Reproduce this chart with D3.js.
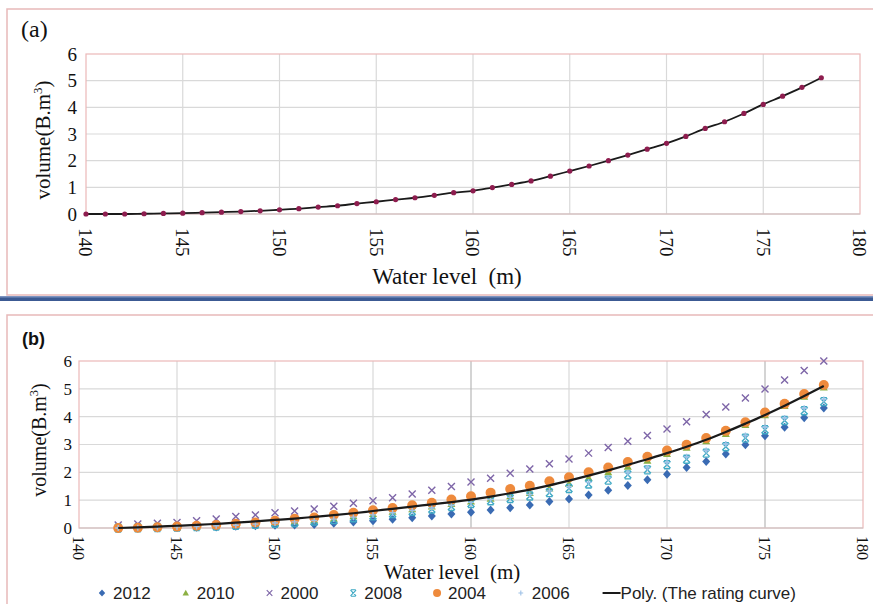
<!DOCTYPE html>
<html>
<head>
<meta charset="utf-8">
<script src="https://cdn.jsdelivr.net/npm/d3@7"></script>
<style>
  body { margin: 0; background: #fff; }
  svg { display: block; }
</style>
</head>
<body>
<div id="chart-area"></div>
<script>
// ---- data ----
var xTicks = [140, 145, 150, 155, 160, 165, 170, 175, 180];
var yTicks = [0, 1, 2, 3, 4, 5, 6];

// panel (a): volume vs water level
var levelsA = [140,141,142,143,144,145,146,147,148,149,150,151,152,153,154,155,156,157,158,159,
               160,161,162,163,164,165,166,167,168,169,170,171,172,173,174,175,176,177,178];
var volumeA = [0.00,0.00,0.00,0.01,0.02,0.03,0.05,0.07,0.09,0.12,0.16,0.20,0.26,0.31,0.39,0.46,0.54,0.61,0.70,0.80,
               0.87,0.99,1.11,1.24,1.42,1.61,1.80,2.00,2.21,2.43,2.65,2.91,3.21,3.46,3.77,4.11,4.42,4.75,5.11];

// panel (b): survey years
var levelsB = [142,143,144,145,146,147,148,149,150,151,152,153,154,155,156,157,158,159,160,
               161,162,163,164,165,166,167,168,169,170,171,172,173,174,175,176,177,178];
var vol2012 = [0.00,0.00,0.01,0.02,0.03,0.04,0.06,0.08,0.10,0.11,0.13,0.17,0.22,0.26,0.31,0.37,0.43,0.50,0.57,
               0.65,0.73,0.83,0.95,1.04,1.19,1.36,1.53,1.73,1.93,2.17,2.39,2.66,2.99,3.31,3.62,3.96,4.31];
var vol2010 = [0.00,0.01,0.02,0.04,0.06,0.08,0.11,0.15,0.19,0.23,0.28,0.33,0.42,0.50,0.58,0.67,0.77,0.86,0.95,
               1.05,1.14,1.26,1.42,1.58,1.80,2.00,2.20,2.42,2.66,2.88,3.12,3.38,3.70,4.05,4.38,4.72,5.05];
var vol2000 = [0.11,0.14,0.17,0.20,0.26,0.32,0.41,0.47,0.55,0.61,0.68,0.78,0.89,0.98,1.09,1.22,1.36,1.49,1.65,
               1.79,1.97,2.12,2.31,2.48,2.69,2.89,3.12,3.32,3.56,3.82,4.08,4.35,4.67,4.99,5.32,5.66,6.00];
var vol2008 = [0.00,0.01,0.02,0.03,0.05,0.07,0.10,0.13,0.17,0.20,0.25,0.30,0.37,0.44,0.52,0.60,0.68,0.77,0.88,
               0.98,1.06,1.15,1.27,1.42,1.58,1.72,1.91,2.09,2.27,2.47,2.69,2.92,3.23,3.53,3.86,4.21,4.54];
var vol2004 = [0.00,0.01,0.03,0.05,0.08,0.11,0.15,0.20,0.26,0.33,0.38,0.47,0.55,0.64,0.72,0.82,0.91,1.02,1.14,
               1.27,1.40,1.52,1.68,1.82,2.00,2.17,2.37,2.56,2.78,2.99,3.23,3.49,3.80,4.15,4.46,4.81,5.14];
var vol2006 = [0.00,0.01,0.02,0.04,0.05,0.08,0.10,0.14,0.18,0.22,0.27,0.32,0.39,0.47,0.55,0.63,0.72,0.81,0.92,
               1.02,1.10,1.20,1.33,1.48,1.64,1.80,1.98,2.16,2.35,2.56,2.78,3.02,3.32,3.62,3.95,4.30,4.62];
var volPoly = [0.00,0.02,0.05,0.08,0.11,0.15,0.19,0.24,0.29,0.34,0.40,0.46,0.53,0.61,0.69,0.77,0.85,0.93,1.02,
               1.13,1.25,1.38,1.53,1.70,1.88,2.07,2.27,2.47,2.69,2.92,3.17,3.45,3.75,4.06,4.39,4.74,5.10];

var seriesNames = ["2012", "2010", "2000", "2008", "2004", "2006"];
var polyLabel = "Poly. (The rating curve)";

// ---- svg ----
var svg = d3.select("#chart-area")
    .append("svg")
        .attr("width", 873)
        .attr("height", 604);

svg.append("rect").attr("width", 873).attr("height", 604).attr("fill", "#fff");

// panel frames
svg.append("rect")
    .attr("x", 7).attr("y", 9).attr("width", 880).attr("height", 286)
    .attr("fill", "none").attr("stroke", "#e8b9b9").attr("stroke-width", 1.5);
svg.append("rect")
    .attr("x", 0).attr("y", 296).attr("width", 873).attr("height", 5)
    .attr("fill", "#3c5a93");
svg.append("rect")
    .attr("x", 0).attr("y", 296).attr("width", 873).attr("height", 1.5)
    .attr("fill", "#7d93c0");
svg.append("rect")
    .attr("x", 7).attr("y", 315).attr("width", 880).attr("height", 300)
    .attr("fill", "none").attr("stroke", "#e8b9b9").attr("stroke-width", 1.5);

// draws grid, frame and axes for one panel, returns scales
function panel(box, opt) {
    var g = svg.append("g");
    var x = d3.scaleLinear().domain([140, 180]).range([box.left, box.right]);
    var y = d3.scaleLinear().domain([0, 6]).range([box.bottom, box.top]);

    // horizontal grid
    g.selectAll(".hg").data(yTicks.slice(1, -1)).enter().append("line")
        .attr("x1", box.left).attr("x2", box.right)
        .attr("y1", function(d){ return y(d); }).attr("y2", function(d){ return y(d); })
        .attr("stroke", "#d9d9d9").attr("stroke-width", 1.2);
    // vertical grid
    g.selectAll(".vg").data(xTicks.slice(1, -1)).enter().append("line")
        .attr("y1", box.top).attr("y2", box.bottom)
        .attr("x1", function(d){ return x(d); }).attr("x2", function(d){ return x(d); })
        .attr("stroke", function(d){ return opt.darkX.indexOf(d) >= 0 ? "#b8b8b8" : "#d9d9d9"; })
        .attr("stroke-width", 1.2);
    // plot frame
    g.append("rect")
        .attr("x", box.left).attr("y", box.top)
        .attr("width", box.right - box.left).attr("height", box.bottom - box.top)
        .attr("fill", "none").attr("stroke", "#ebb8b8").attr("stroke-width", 1.2);
    g.append("line")
        .attr("x1", box.left).attr("x2", box.right)
        .attr("y1", box.bottom).attr("y2", box.bottom)
        .attr("stroke", "#c8c8c8").attr("stroke-width", 1.2);

    // y tick labels
    g.selectAll(".yl").data(yTicks).enter().append("text")
        .attr("x", box.left - opt.yGap)
        .attr("y", function(d){ return y(d); })
        .attr("dy", "0.35em")
        .attr("text-anchor", "end")
        .attr("font-family", "Liberation Serif, Times New Roman, serif")
        .attr("font-size", opt.tickSize)
        .attr("fill", "#111")
        .text(function(d){ return d; });

    // x tick labels, rotated
    g.selectAll(".xl").data(xTicks).enter().append("text")
        .attr("transform", function(d){ return "translate(" + x(d) + "," + (box.bottom + opt.xGap) + ") rotate(90)"; })
        .attr("dy", "0.35em")
        .attr("font-family", "Liberation Serif, Times New Roman, serif")
        .attr("font-size", opt.xTickSize || opt.tickSize)
        .attr("fill", "#111")
        .text(function(d){ return d; });

    // y title
    var yt = g.append("text")
        .attr("transform", "translate(" + opt.yTitle[0] + "," + opt.yTitle[1] + ") rotate(-90)")
        .attr("text-anchor", "middle")
        .attr("font-family", "Liberation Serif, Times New Roman, serif")
        .attr("font-size", opt.titleSize)
        .attr("fill", "#111");
    yt.append("tspan").text("volume(B.m");
    yt.append("tspan").attr("font-size", opt.titleSize * 0.62).attr("dy", -opt.titleSize * 0.38).text("3");
    yt.append("tspan").attr("dy", opt.titleSize * 0.38).text(")");

    // x title
    g.append("text")
        .attr("x", opt.xTitle[0]).attr("y", opt.xTitle[1])
        .attr("text-anchor", "middle")
        .attr("font-family", "Liberation Serif, Times New Roman, serif")
        .attr("font-size", opt.xTitleSize)
        .attr("fill", "#111")
        .style("white-space", "pre")
        .text("Water level  (m)");

    return { x: x, y: y, g: g };
}

// ---- panel (a) ----
var pa = panel({ left: 86, right: 860, top: 54, bottom: 214 },
    { yGap: 9, xGap: 14, tickSize: 19, titleSize: 21, xTitleSize: 23,
      yTitle: [50, 140], xTitle: [447, 284], darkX: [] });

svg.append("text")
    .attr("x", 21).attr("y", 37)
    .attr("font-family", "Liberation Serif, Times New Roman, serif")
    .attr("font-size", 24).attr("fill", "#111")
    .text("(a)");

var lineA = d3.line()
    .x(function(d, i){ return pa.x(levelsA[i]); })
    .y(function(d){ return pa.y(d); })
    .curve(d3.curveMonotoneX);

pa.g.append("path")
    .datum(volumeA)
    .attr("d", lineA)
    .attr("fill", "none")
    .attr("stroke", "#1a1a1a")
    .attr("stroke-width", 1.8);

pa.g.selectAll(".pt").data(volumeA).enter().append("circle")
    .attr("cx", function(d, i){ return pa.x(levelsA[i]); })
    .attr("cy", function(d){ return pa.y(d); })
    .attr("r", 2.6)
    .attr("fill", "#8e1d4f");

// ---- panel (b) ----
var pb = panel({ left: 79, right: 863, top: 361, bottom: 528 },
    { yGap: 7, xGap: 8, tickSize: 17, xTickSize: 16, titleSize: 20, xTitleSize: 21,
      yTitle: [46, 440], xTitle: [452, 579], darkX: [160, 175] });

svg.append("text")
    .attr("x", 22).attr("y", 345)
    .attr("font-family", "Liberation Sans, Arial, sans-serif")
    .attr("font-size", 18).attr("font-weight", "bold").attr("fill", "#111")
    .text("(b)");

// marker shapes
function markerPath(kind) {
    switch (kind) {
        case "diamond": return "M0,-4.5L4,0L0,4.5L-4,0Z";
        case "triangle": return "M0,-4.2L4,3L-4,3Z";
        case "times": return "M-3.5,-3.5L3.5,3.5M3.5,-3.5L-3.5,3.5";
        case "star": return "M-3.5,-3.5L3.5,3.5M3.5,-3.5L-3.5,3.5M-3,-4L3,-4M-3,4L3,4";
        case "circle": return "M0,-5A5,5,0,1,1,0,5A5,5,0,1,1,0,-5Z";
        case "plus": return "M-3,0L3,0M0,-3L0,3";
    }
}

var seriesB = [
    { name: seriesNames[0], values: vol2012, color: "#3a6bb3", kind: "diamond", stroke: false },
    { name: seriesNames[1], values: vol2010, color: "#8cb043", kind: "triangle", stroke: false },
    { name: seriesNames[2], values: vol2000, color: "#7e66a8", kind: "times", stroke: true },
    { name: seriesNames[3], values: vol2008, color: "#3fa9c4", kind: "star", stroke: true },
    { name: seriesNames[4], values: vol2004, color: "#ee8a3c", kind: "circle", stroke: false },
    { name: seriesNames[5], values: vol2006, color: "#9ec1e6", kind: "plus", stroke: true }
];

seriesB.forEach(function(s) {
    pb.g.append("g").selectAll("path").data(s.values).enter().append("path")
        .attr("transform", function(d, i){ return "translate(" + pb.x(levelsB[i]) + "," + pb.y(d) + ")"; })
        .attr("d", markerPath(s.kind))
        .attr("fill", s.stroke ? "none" : s.color)
        .attr("stroke", s.stroke ? s.color : "none")
        .attr("stroke-width", 1.4);
});

var lineB = d3.line()
    .x(function(d, i){ return pb.x(levelsB[i]); })
    .y(function(d){ return pb.y(d); })
    .curve(d3.curveMonotoneX);

pb.g.append("path")
    .datum(volPoly)
    .attr("d", lineB)
    .attr("fill", "none")
    .attr("stroke", "#1a1a1a")
    .attr("stroke-width", 2.2);

// ---- legend ----
var legend = svg.append("g");
var legendY = 593, legendX0 = 102, legendX1 = 798;
var items = seriesB.map(function(s){ return { label: s.name, s: s }; });
items.push({ label: polyLabel, s: null });

var nodes = items.map(function(it) {
    var t = legend.append("text")
        .attr("y", legendY).attr("dy", "0.35em")
        .attr("font-family", "Liberation Sans, Arial, sans-serif")
        .attr("font-size", 17)
        .attr("fill", "#222")
        .text(it.label);
    return { it: it, t: t, w: t.node().getComputedTextLength() };
});
// widths: marker slot 11 px, poly line slot 18 px
var used = d3.sum(nodes, function(n){ return n.w + (n.it.s ? 11 : 18); });
var gap = (legendX1 - legendX0 - used) / (nodes.length - 1);
var cx = legendX0;
nodes.forEach(function(n) {
    if (n.it.s) {
        legend.append("path")
            .attr("transform", "translate(" + cx + "," + legendY + ") scale(0.8)")
            .attr("d", markerPath(n.it.s.kind))
            .attr("fill", n.it.s.stroke ? "none" : n.it.s.color)
            .attr("stroke", n.it.s.stroke ? n.it.s.color : "none")
            .attr("stroke-width", 1.4);
        n.t.attr("x", cx + 11);
        cx += 11 + n.w + gap;
    } else {
        legend.append("line")
            .attr("x1", cx - 2).attr("x2", cx + 16)
            .attr("y1", legendY).attr("y2", legendY)
            .attr("stroke", "#1a1a1a").attr("stroke-width", 2);
        n.t.attr("x", cx + 16);
    }
});
</script>
</body>
</html>
